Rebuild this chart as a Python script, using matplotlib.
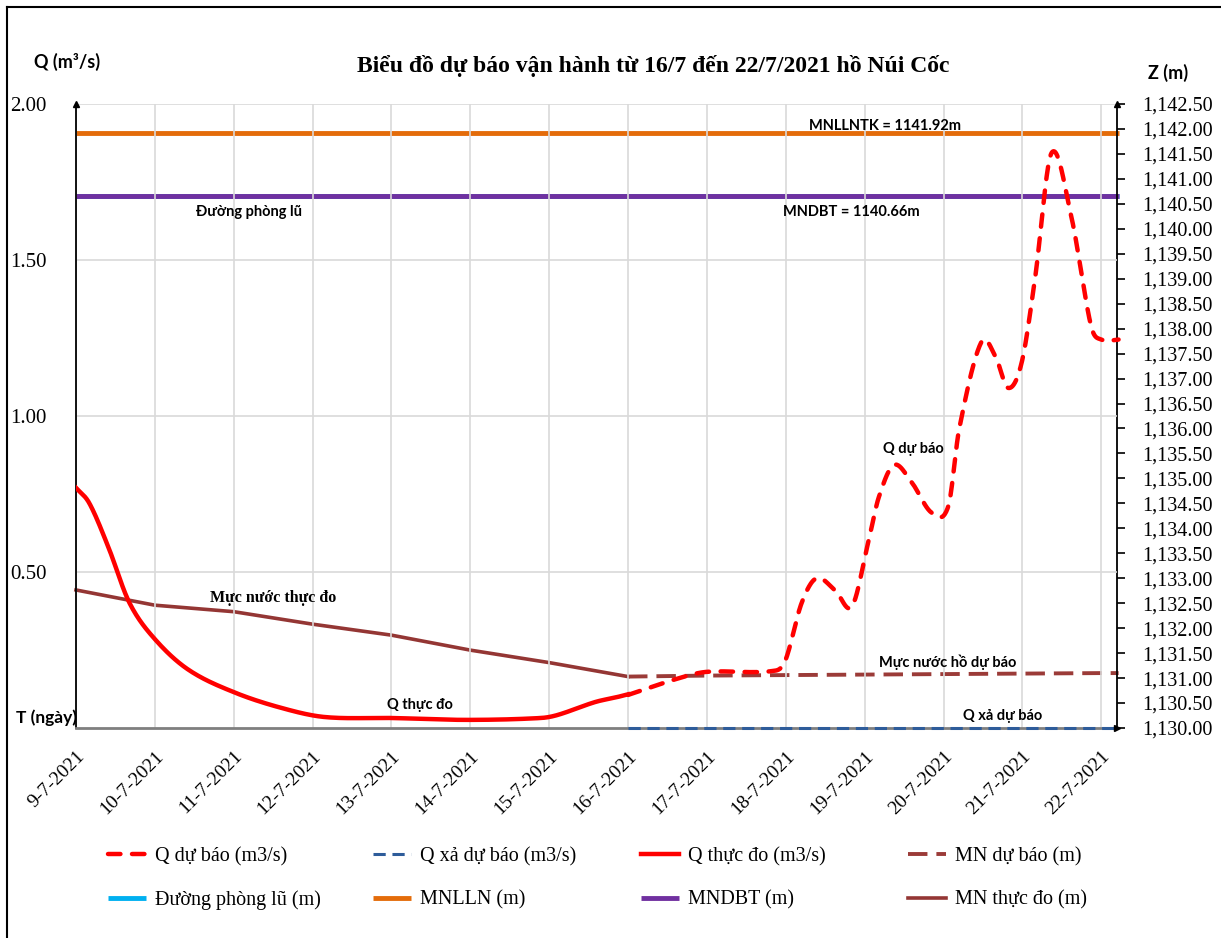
import numpy as np
import matplotlib
matplotlib.use("Agg")
import matplotlib.pyplot as plt
from matplotlib.lines import Line2D

# ---------------- data (x = days since 9-7-2021) ----------------
date_labels = ["9-7-2021", "10-7-2021", "11-7-2021", "12-7-2021", "13-7-2021",
               "14-7-2021", "15-7-2021", "16-7-2021", "17-7-2021", "18-7-2021",
               "19-7-2021", "20-7-2021", "21-7-2021", "22-7-2021"]

q_obs_day = [0, 0.17, 0.41, 0.68, 1.01, 1.43, 2.0, 2.61, 3.16, 4.01, 4.95, 5.89, 6.11, 6.58, 6.86, 7.0]
q_obs_val = [0.77, 0.72, 0.58, 0.40, 0.282, 0.186, 0.115, 0.064, 0.035, 0.032, 0.026, 0.032, 0.042, 0.083, 0.099, 0.108]

q_fc_day = [7.0, 7.65, 8.0, 8.87, 9.0, 9.2, 9.39, 9.63, 9.84, 10.05, 10.18, 10.37, 10.59, 10.85,
            11.06, 11.2, 11.48, 11.66, 11.82, 11.99, 12.16, 12.37, 12.62, 12.87, 13.0, 13.22]
q_fc_val = [0.106, 0.16, 0.18, 0.184, 0.22, 0.40, 0.48, 0.44, 0.39, 0.60, 0.74, 0.843, 0.79, 0.69,
            0.71, 0.96, 1.237, 1.19, 1.09, 1.17, 1.44, 1.843, 1.64, 1.29, 1.245, 1.245]

q_out_day = [7.0, 13.22]
q_out_val = [0.0, 0.0]

z_obs_day = [0, 1, 2, 3, 4, 5, 6, 7]
z_obs_val = [1132.765, 1132.46, 1132.33, 1132.08, 1131.86, 1131.56, 1131.31, 1131.03]

z_fc_day = [7, 8, 9, 10, 11, 12, 13, 13.22]
z_fc_val = [1131.03, 1131.05, 1131.06, 1131.07, 1131.08, 1131.09, 1131.10, 1131.10]

mnlln = 1141.92
mndbt = 1140.66
flood_line = 1140.66

q_ticks = [0.5, 1.0, 1.5, 2.0]
z_ticks = list(np.arange(1130.0, 1142.51, 0.5))


def smooth(xs, ys, n=24):
    """Smoothed line drawn through the points (cubic Hermite in x, like a spreadsheet smoothed line)."""
    x = np.asarray(xs, float); y = np.asarray(ys, float)
    if len(x) < 3:
        return x, y
    m = np.empty_like(y)
    m[1:-1] = (y[2:] - y[:-2]) / (x[2:] - x[:-2])
    m[0] = (y[1] - y[0]) / (x[1] - x[0])
    m[-1] = (y[-1] - y[-2]) / (x[-1] - x[-2])
    ox, oy = [], []
    t = np.linspace(0, 1, n, endpoint=False)
    for i in range(len(x) - 1):
        h = x[i + 1] - x[i]
        h00 = 2 * t ** 3 - 3 * t ** 2 + 1
        h10 = t ** 3 - 2 * t ** 2 + t
        h01 = -2 * t ** 3 + 3 * t ** 2
        h11 = t ** 3 - t ** 2
        ox.extend(x[i] + t * h)
        oy.extend(h00 * y[i] + h10 * h * m[i] + h01 * y[i + 1] + h11 * h * m[i + 1])
    ox.append(x[-1]); oy.append(y[-1])
    return np.array(ox), np.array(oy)


# ---------------- styling ----------------
W, H = 1221, 938
fig = plt.figure(figsize=(W / 100, H / 100), dpi=100)
SERIF = ["Liberation Serif", "DejaVu Serif"]
SANS = ["Lato", "Open Sans", "DejaVu Sans"]

RED = "#FF0000"
BLUE = "#2E5C9A"
CYAN = "#00B0F0"
ORANGE = "#E46C0A"
PURPLE = "#7030A0"
BROWN = "#943634"
BROWN_FC = "#9B3B38"
GRID = "#D9D9D9"

left, right = 76 / W, 1117 / W
bottom, top = 1 - 728 / H, 1 - 104 / H
ax = fig.add_axes([left, bottom, right - left, top - bottom])
ax2 = ax.twinx()

ax.set_xlim(0, 13.2)
ax.set_ylim(0, 2.0)
ax2.set_ylim(1130.0, 1142.5)

# grid
ax.set_xticks(range(len(date_labels)))
ax.set_xticklabels(date_labels, rotation=45, ha="right", va="top", rotation_mode="anchor",
                   fontsize=14, family=SERIF)
ax.tick_params(axis="x", length=0, pad=14)
ax.set_yticks(q_ticks)
ax.set_yticklabels([f"{v:.2f}" for v in q_ticks], fontsize=15, family=SERIF)
ax.tick_params(axis="y", length=0, pad=21)
ax.grid(True, color=GRID, lw=1.2)
ax.set_axisbelow(True)

ax2.set_yticks(z_ticks)
ax2.set_yticklabels([f"{v:,.2f}" for v in z_ticks], fontsize=14.5, family=SERIF)
ax2.tick_params(axis="y", direction="out", length=6, width=1.2, pad=12)

for a in (ax, ax2):
    a.spines["top"].set_visible(False)
ax.spines["left"].set_color("black"); ax.spines["left"].set_linewidth(1.3)
ax.spines["right"].set_visible(False)
ax2.spines["left"].set_visible(False)
ax2.spines["bottom"].set_visible(False)
ax2.spines["right"].set_color("black"); ax2.spines["right"].set_linewidth(1.3)
ax.spines["bottom"].set_color("#7F7F7F"); ax.spines["bottom"].set_linewidth(2)

# arrows on axes
for px_, py_, mk in ((0, 1.0, "^"), (1.0, 1.0, "^"), (1.0, 0.0, ">")):
    ax.plot([px_], [py_], marker=mk, color="black", ms=5, transform=ax.transAxes,
            clip_on=False, zorder=10)

# ---------------- series ----------------
x0, x1 = 0, 13.22
h_flood, = ax2.plot([x0, x1], [flood_line, flood_line], color=CYAN, lw=3.5, solid_capstyle="butt",
                    label="Đường phòng lũ (m)", clip_on=False)
h_mnlln, = ax2.plot([x0, x1], [mnlln, mnlln], color=ORANGE, lw=3.5, solid_capstyle="butt",
                    label="MNLLN (m)", clip_on=False)
h_mndbt, = ax2.plot([x0, x1], [mndbt, mndbt], color=PURPLE, lw=3.5, solid_capstyle="butt",
                    label="MNDBT (m)", clip_on=False)

h_zobs, = ax2.plot(z_obs_day, z_obs_val, color=BROWN, lw=2.6, label="MN thực đo (m)", clip_on=False)
h_zfc, = ax2.plot(z_fc_day, z_fc_val, color=BROWN_FC, lw=2.8, dashes=(5, 2.3),
                  label="MN dự báo (m)", clip_on=False)

sx, sy = smooth(q_obs_day, q_obs_val)
h_qobs, = ax.plot(sx, sy, color=RED, lw=3.2, label="Q thực đo (m3/s)", zorder=5)
sx, sy = smooth(q_fc_day, q_fc_val)
h_qfc, = ax.plot(sx, sy, color=RED, lw=3.2, dashes=(2.8, 2.6), dash_capstyle="round",
                 label="Q dự báo (m3/s)", zorder=5, clip_on=False)
h_qout, = ax.plot(q_out_day, q_out_val, color=BLUE, lw=2.2, dashes=(4, 2.2),
                  label="Q xả dự báo (m3/s)", zorder=6, clip_on=False)
ax.set_zorder(ax2.get_zorder() + 1)
ax.patch.set_visible(False)

# ---------------- annotations ----------------
def ftxt(x, y, s, size=10.5, weight="bold", family=SANS, **kw):
    fig.text(x / W, 1 - y / H, s, fontsize=size, fontweight=weight, family=family,
             ha="center", va="center", **kw)

ftxt(653, 66, "Biểu đồ dự báo vận hành từ 16/7 đến 22/7/2021 hồ Núi Cốc", size=17, family=SERIF)
ftxt(67, 62, "Q (m³/s)", size=13)
ftxt(1168, 73, "Z (m)", size=13)
ftxt(46, 718, "T (ngày)", size=12.5)

ftxt(885, 126, "MNLLNTK = 1141.92m", size=10.5)
ftxt(851, 212, "MNDBT = 1140.66m", size=10.5)
ftxt(249, 212, "Đường phòng lũ", size=10.5)
ftxt(273, 598, "Mực nước thực đo", size=11.5, family=SERIF)
ftxt(420, 705, "Q thực đo", size=10.5)
ftxt(948, 662, "Mực nước hồ dự báo", size=10.5)
ftxt(1003, 716, "Q xả dự báo", size=10.5)
ftxt(913, 449, "Q dự báo", size=10.5)

# ---------------- legend (4 columns x 2 rows) ----------------
cols = [(h_qfc, h_flood), (h_qout, h_mnlln), (h_qobs, h_mndbt), (h_zfc, h_zobs)]
col_x = [108, 373, 641, 908]
for (ha_, hb_), cx in zip(cols, col_x):
    fig.legend([ha_, hb_], [ha_.get_label(), hb_.get_label()], loc="upper left",
               bbox_to_anchor=(cx / W, 1 - 847 / H), frameon=False,
               prop={"family": SERIF, "size": 14.5}, handlelength=1.9, handletextpad=0.45,
               labelspacing=1.2, borderaxespad=0, borderpad=0)

# figure frame (top/left)
fig.add_artist(Line2D([7 / W, 1.0], [1 - 7 / H, 1 - 7 / H], color="black", lw=1.5,
                      transform=fig.transFigure))
fig.add_artist(Line2D([7 / W, 7 / W], [1 - 7 / H, 0.0], color="black", lw=1.5,
                      transform=fig.transFigure))

fig.savefig("out.png", dpi=100)
